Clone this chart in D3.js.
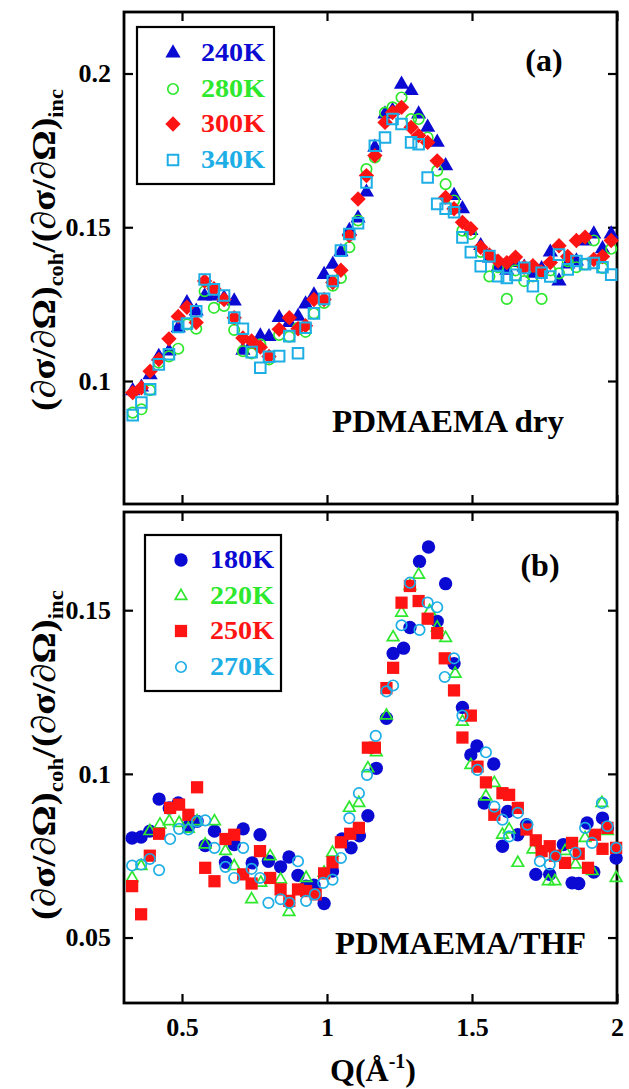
<!DOCTYPE html>
<html><head><meta charset="utf-8">
<script src="https://cdn.jsdelivr.net/npm/d3@7"></script>
<style>
body{margin:0;background:#fff}
svg{display:block}
text{font-family:"Liberation Serif","Times New Roman",serif;font-weight:bold}
</style>
</head><body>
<svg id="c" width="629" height="1089"></svg>
<script>
// ---------- DATA ----------
// Panel (a): PDMAEMA dry, common Q grid
const qA = [0.33,0.36,0.39,0.42,0.455,0.487,0.517,0.549,0.578,0.61,0.645,0.68,0.71,0.74,0.77,0.80,0.835,0.87,0.90,0.926,0.955,0.99,1.02,1.048,1.077,1.107,1.136,1.165,1.2,1.226,1.257,1.29,1.316,1.347,1.38,1.409,1.438,1.467,1.496,1.53,1.56,1.59,1.62,1.65,1.68,1.71,1.74,1.77,1.80,1.83,1.86,1.89,1.92,1.95,1.98];
const a240 = [0.0968,0.098,0.102,0.108,0.1097,0.1173,0.1254,0.1227,0.1276,0.1276,0.127,0.126,0.110,0.112,0.1146,0.1144,0.1206,0.119,0.121,0.125,0.128,0.1346,0.1379,0.142,0.1489,0.153,0.1614,0.176,0.1868,0.188,0.1965,0.1944,0.1868,0.1825,0.1776,0.170,0.1603,0.156,0.1489,0.144,0.140,0.137,0.136,0.1385,0.137,0.135,0.1365,0.1419,0.1325,0.138,0.139,0.1455,0.1478,0.143,0.1478];
const a280 = [0.0897,0.0908,0.097,0.106,0.108,0.1105,0.1184,0.117,0.1292,0.1238,0.1244,0.1166,0.1097,0.109,0.1119,0.107,0.115,0.1144,0.1173,0.116,0.122,0.1254,0.131,0.1335,0.1435,0.1522,0.1689,0.1727,0.1873,0.189,0.1922,0.1852,0.1852,0.1792,0.1684,0.164,0.1587,0.1489,0.1478,0.142,0.134,0.137,0.1267,0.136,0.1325,0.134,0.1267,0.136,0.135,0.139,0.137,0.1379,0.1457,0.1368,0.143];
const a300 = [0.0962,0.0978,0.1032,0.107,0.1137,0.121,0.124,0.119,0.1325,0.130,0.1265,0.1206,0.114,0.113,0.111,0.108,0.1168,0.1206,0.117,0.118,0.1265,0.1265,0.132,0.136,0.1473,0.1592,0.1668,0.1733,0.1841,0.1873,0.189,0.1825,0.1798,0.1776,0.1716,0.1597,0.156,0.1516,0.1495,0.1435,0.141,0.139,0.1385,0.1403,0.137,0.1375,0.1355,0.1385,0.144,0.1405,0.1457,0.1468,0.1395,0.1405,0.1457];
const a340 = [0.0889,0.093,0.0973,0.1054,0.1087,0.1176,0.1187,0.1227,0.133,0.1298,0.1278,0.1206,0.117,0.1094,0.1043,0.1079,0.1081,0.1146,0.109,0.1173,0.122,0.1267,0.1325,0.1424,0.1478,0.1513,0.1646,0.1765,0.1792,0.1852,0.1836,0.1776,0.177,0.1662,0.1576,0.156,0.1549,0.1467,0.1419,0.1373,0.1406,0.1341,0.1335,0.1345,0.1368,0.1308,0.1352,0.134,0.1411,0.1363,0.139,0.138,0.1384,0.137,0.1346];

// Panel (b): PDMAEMA/THF
const q180 = [0.328,0.359,0.389,0.421,0.456,0.487,0.522,0.552,0.58,0.612,0.65,0.68,0.711,0.742,0.769,0.798,0.84,0.869,0.9,0.928,0.955,0.99,1.019,1.052,1.083,1.112,1.141,1.17,1.205,1.228,1.264,1.286,1.319,1.35,1.38,1.409,1.438,1.467,1.496,1.517,1.542,1.575,1.605,1.623,1.658,1.688,1.72,1.768,1.815,1.845,1.868,1.897,1.92,1.95,1.967,1.997];
const b180 = [0.0804,0.0807,0.0825,0.0923,0.0896,0.0911,0.084,0.0855,0.0781,0.0825,0.073,0.0784,0.0832,0.0728,0.0814,0.0733,0.0716,0.0746,0.069,0.0657,0.066,0.0604,0.0703,0.0801,0.0774,0.0811,0.0872,0.1017,0.117,0.1368,0.1384,0.1447,0.1649,0.1693,0.1466,0.1581,0.1337,0.1203,0.1058,0.1085,0.0911,0.103,0.0779,0.0885,0.0814,0.0845,0.0693,0.0693,0.0784,0.0667,0.0665,0.085,0.07,0.0865,0.0835,0.0743];
const q220 = [0.328,0.359,0.389,0.424,0.456,0.49,0.522,0.552,0.58,0.612,0.65,0.68,0.74,0.772,0.804,0.84,0.869,0.928,0.99,1.019,1.077,1.11,1.141,1.17,1.205,1.228,1.257,1.286,1.316,1.354,1.38,1.409,1.442,1.467,1.496,1.548,1.577,1.605,1.628,1.658,1.71,1.763,1.786,1.821,1.857,1.89,1.915,1.948,1.967,1.997];
const b220 = [0.0682,0.0718,0.0825,0.0845,0.0855,0.085,0.0832,0.0855,0.0784,0.0855,0.0764,0.0718,0.0617,0.0667,0.0748,0.0677,0.0578,0.0682,0.0698,0.0759,0.0896,0.0911,0.1017,0.1066,0.1178,0.1417,0.1492,0.1574,0.1608,0.1497,0.1447,0.1415,0.1306,0.1159,0.1027,0.0931,0.0972,0.0814,0.083,0.0728,0.0769,0.0672,0.0672,0.0764,0.0723,0.0804,0.0703,0.0911,0.0825,0.0682];
const q250 = [0.328,0.359,0.389,0.421,0.459,0.49,0.522,0.552,0.58,0.612,0.65,0.68,0.711,0.74,0.769,0.804,0.84,0.87,0.9,0.928,0.961,0.99,1.019,1.048,1.08,1.11,1.141,1.165,1.205,1.228,1.257,1.286,1.316,1.347,1.38,1.406,1.438,1.467,1.496,1.519,1.548,1.577,1.605,1.628,1.658,1.688,1.72,1.74,1.768,1.786,1.821,1.845,1.868,1.9,1.924,1.95,1.967,1.997];
const b250 = [0.0657,0.0571,0.075,0.0817,0.0896,0.0906,0.0875,0.0959,0.0713,0.0672,0.0801,0.0814,0.0693,0.0665,0.0764,0.0682,0.0647,0.0612,0.0647,0.0642,0.0632,0.0696,0.073,0.0791,0.0817,0.0835,0.108,0.108,0.1262,0.1324,0.1523,0.1574,0.1528,0.1474,0.143,0.1353,0.1255,0.1111,0.1178,0.1022,0.0974,0.0875,0.0941,0.0936,0.0896,0.083,0.0797,0.0764,0.0779,0.075,0.0728,0.0789,0.0756,0.0713,0.0814,0.0771,0.0835,0.0774];
const q270 = [0.328,0.359,0.389,0.421,0.459,0.49,0.522,0.552,0.58,0.612,0.65,0.68,0.711,0.74,0.769,0.798,0.84,0.87,0.9,0.928,0.958,0.987,1.019,1.048,1.077,1.11,1.138,1.168,1.205,1.228,1.257,1.286,1.319,1.347,1.38,1.406,1.438,1.467,1.519,1.548,1.577,1.605,1.628,1.658,1.691,1.734,1.768,1.788,1.857,1.89,1.914,1.948,1.967,1.997];
const b270 = [0.072,0.0723,0.074,0.0706,0.0801,0.0832,0.083,0.0855,0.0858,0.0774,0.0716,0.0682,0.0774,0.071,0.0682,0.0606,0.0617,0.0606,0.0733,0.0612,0.0632,0.0667,0.0677,0.0743,0.0865,0.0941,0.0997,0.1116,0.1252,0.127,0.1454,0.1584,0.144,0.1523,0.1509,0.1296,0.1353,0.1178,0.1012,0.1066,0.09,0.086,0.0809,0.0881,0.0845,0.0733,0.0723,0.0748,0.0759,0.0835,0.0789,0.0911,0.084,0.0774];

const xTicks = [0.5, 1, 1.5, 2];
const yTicksA = [0.1, 0.15, 0.2];
const yTicksB = [0.05, 0.1, 0.15];
const legendA = ["240K","280K","300K","340K"];
const legendB = ["180K","220K","250K","270K"];

// ---------- DRAW ----------
const svg = d3.select("#c");
const BLUE="#0a0ad2", GREEN="#2ee82e", RED="#ff1414", CYAN="#1eaee6";
const L=124, R=617;
const x = d3.scaleLinear().domain([0.3,2.0]).range([L,R]);
const ya = d3.scaleLinear().domain([0.06,0.22]).range([504,12]);
const yb = d3.scaleLinear().domain([0.03,0.18]).range([1003,512]);
const minor = d3.range(4,20).map(i=>i/10).filter(v=>!xTicks.some(t=>Math.abs(t-v)<1e-9));

function marker(g, type, cx, cy, color){
  let p;
  switch(type){
    case "triF": p=g.append("path").attr("d",d3.symbol(d3.symbolTriangle,100)()).attr("fill",color); break;
    case "triO": p=g.append("path").attr("d",d3.symbol(d3.symbolTriangle,58)()).attr("fill","none").attr("stroke",color).attr("stroke-width",1.7); break;
    case "cirO": p=g.append("path").attr("d",d3.symbol(d3.symbolCircle,86)()).attr("fill","none").attr("stroke",color).attr("stroke-width",1.7); break;
    case "cirF": p=g.append("path").attr("d",d3.symbol(d3.symbolCircle,140)()).attr("fill",color); break;
    case "dia": p=g.append("path").attr("d",d3.symbol(d3.symbolSquare,118)()).attr("fill",color); break;
    case "sqO": p=g.append("path").attr("d",d3.symbol(d3.symbolSquare,112)()).attr("fill","none").attr("stroke",color).attr("stroke-width",2); break;
    case "sqF": p=g.append("path").attr("d",d3.symbol(d3.symbolSquare,150)()).attr("fill",color); break;
  }
  const rot = type==="dia" ? " rotate(45)" : "";
  p.attr("transform",`translate(${cx},${cy})${rot}`);
}

function panel(y, yTicks, showX){
  const g = svg.append("g");
  const [y0,y1] = [y.range()[0], y.range()[1]];
  const bot = g.append("g").attr("transform",`translate(0,${y0})`);
  bot.call(d3.axisBottom(x).tickValues(minor).tickSize(-5).tickFormat(""));
  bot.call(d3.axisBottom(x).tickValues(xTicks).tickSize(-9).tickPadding(15).tickFormat(d=>showX?String(d):""));
  const top = g.append("g").attr("transform",`translate(0,${y1})`);
  top.call(d3.axisTop(x).tickValues(minor).tickSize(-5).tickFormat(""));
  top.call(d3.axisTop(x).tickValues(xTicks).tickSize(-9).tickFormat(""));
  const left = g.append("g").attr("transform",`translate(${L},0)`);
  left.call(d3.axisLeft(y).tickValues(yTicks).tickSize(-9).tickPadding(13).tickFormat(d=>String(d)));
  const right = g.append("g").attr("transform",`translate(${R},0)`);
  right.call(d3.axisRight(y).tickValues(yTicks).tickSize(-9).tickFormat(""));
  g.selectAll(".domain").remove();
  g.selectAll(".tick line").attr("stroke","#000").attr("stroke-width",2.2);
  g.selectAll(".tick text").attr("fill","#000").attr("font-size",26)
    .attr("font-family","'Liberation Serif',serif").attr("font-weight","bold");
  g.append("rect").attr("x",L).attr("y",y1).attr("width",R-L).attr("height",y0-y1)
    .attr("fill","none").attr("stroke","#000").attr("stroke-width",2.8);
  return g;
}

const gA = panel(ya, yTicksA, false);
const gB = panel(yb, yTicksB, true);

function series(g, qs, vs, y, type, color){
  const s = g.append("g");
  qs.forEach((q,i)=>marker(s, type, x(q), y(vs[i]), color));
}
series(gA, qA, a240, ya, "triF", BLUE);
series(gA, qA, a280, ya, "cirO", GREEN);
series(gA, qA, a300, ya, "dia", RED);
series(gA, qA, a340, ya, "sqO", CYAN);

series(gB, q180, b180, yb, "cirF", BLUE);
series(gB, q220, b220, yb, "triO", GREEN);
series(gB, q250, b250, yb, "sqF", RED);
series(gB, q270, b270, yb, "cirO", CYAN);

function legend(bx, by, bw, bh, sx, tx, rows, labels, types, colors){
  svg.append("rect").attr("x",bx).attr("y",by).attr("width",bw).attr("height",bh)
    .attr("fill","#fff").attr("stroke","#000").attr("stroke-width",2.2);
  labels.forEach((lab,i)=>{
    marker(svg, types[i], sx, rows[i], colors[i]);
    svg.append("text").attr("x",tx).attr("y",rows[i]+8).attr("font-size",26)
      .attr("textLength",64).attr("lengthAdjust","spacingAndGlyphs")
      .attr("fill",colors[i]).text(lab);
  });
}
legend(137,27,137,157,173,201,[53,89,124,160],legendA,["triF","cirO","dia","sqO"],[BLUE,GREEN,RED,CYAN]);
legend(145,535,136,156,181,210,[560,596,631,667],legendB,["cirF","triO","sqF","cirO"],[BLUE,GREEN,RED,CYAN]);

svg.append("text").attr("x",544).attr("y",71).attr("text-anchor","middle").attr("font-size",32).text("(a)");
svg.append("text").attr("x",540).attr("y",576).attr("text-anchor","middle").attr("font-size",32).text("(b)");
svg.append("text").attr("x",332).attr("y",432).attr("font-size",32).attr("textLength",232).attr("lengthAdjust","spacingAndGlyphs").text("PDMAEMA dry");
svg.append("text").attr("x",335).attr("y",954).attr("font-size",32).attr("textLength",251).attr("lengthAdjust","spacingAndGlyphs").text("PDMAEMA/THF");

const xt = svg.append("text").attr("x",373).attr("y",1081).attr("text-anchor","middle").attr("font-size",32);
xt.append("tspan").text("Q(Å");
xt.append("tspan").attr("dy",-13).attr("font-size",20).text("-1");
xt.append("tspan").attr("dy",13).text(")");

function ytitle(cx, cy, len){
  const g = svg.append("g");
  const t = g.append("text").attr("text-anchor","middle").attr("font-size",34);
  t.append("tspan").text("(∂σ/∂Ω)");
  t.append("tspan").attr("dy",8).attr("font-size",20).text("coh");
  t.append("tspan").attr("dy",-8).text("/(∂σ/∂Ω)");
  t.append("tspan").attr("dy",8).attr("font-size",20).text("inc");
  const w = t.node().getComputedTextLength();
  g.attr("transform",`translate(${cx},${cy}) rotate(-90) scale(${len/w},1)`);
}
ytitle(55, 250, 322);
ytitle(55, 755, 330);
</script>
</body></html>
